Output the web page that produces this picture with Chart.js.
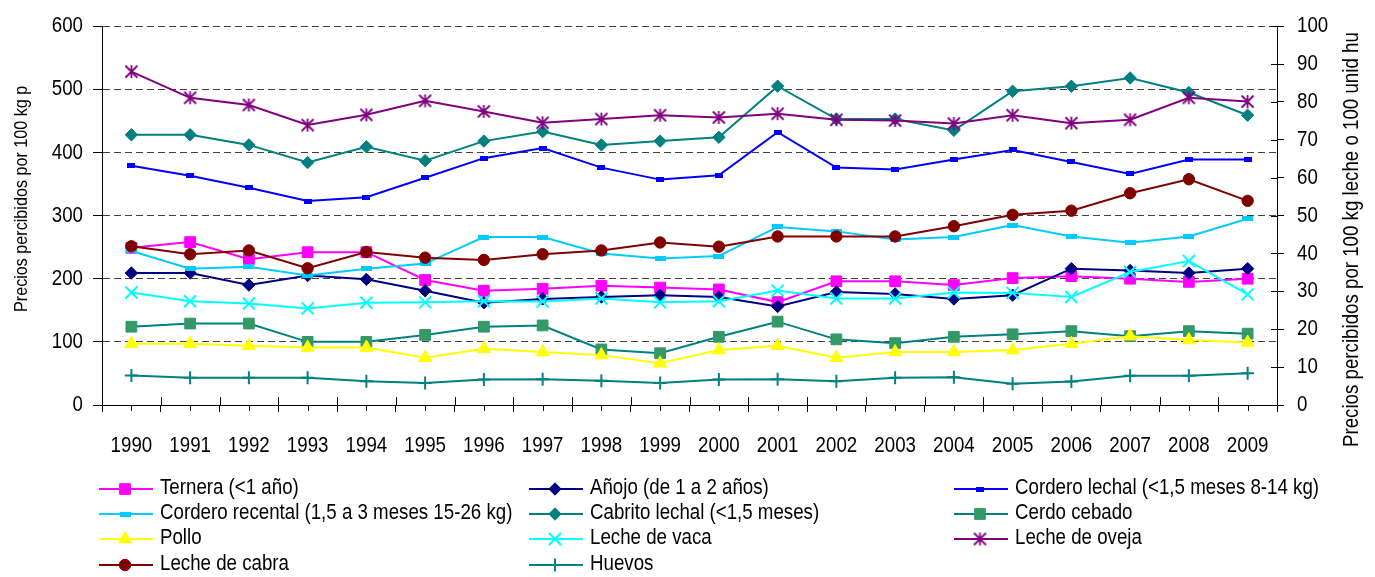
<!DOCTYPE html>
<html>
<head>
<meta charset="utf-8">
<script src="https://cdn.jsdelivr.net/npm/chart.js@4.4.1/dist/chart.umd.min.js"></script>
<style>
html,body{margin:0;padding:0;background:#ffffff;}
#wrap{width:1375px;height:577px;position:relative;}
</style>
</head>
<body>
<div id="wrap"><canvas id="c" width="1375" height="577"></canvas></div>
<script>
// ---- data ----
const years = ['1990','1991','1992','1993','1994','1995','1996','1997','1998','1999','2000','2001','2002','2003','2004','2005','2006','2007','2008','2009'];
const leftTicks = [0,100,200,300,400,500,600];
const rightTicks = [0,10,20,30,40,50,60,70,80,90,100];

// left axis (por 100 kg)
const ternera        = [249,258,231,242,242,198,181,184,189,186,183,163,196,196,190,201,204,200,195,200];
const anojo          = [209,209,190,205,199,181,162,168,171,174,171,156,179,176,168,174,216,213,209,216];
const corderoLechal  = [379,363,344,323,329,360,391,407,376,357,364,432,376,373,389,404,385,366,389,389];
const corderoRecental= [244,216,219,205,216,224,266,266,240,232,236,282,275,262,266,285,267,257,267,295];
const cabritoLechal  = [428,428,412,384,409,387,418,433,412,418,424,505,453,453,435,497,505,518,495,459];
const cerdoCebado    = [124,129,129,100,100,111,124,126,88,82,108,132,104,98,108,112,117,109,117,113];
const pollo          = [97,97,94,91,91,75,89,84,79,66,87,94,75,84,84,87,97,109,103,99];
// right axis (por 100 kg leche o 100 unid huevos)
const lecheVaca      = [29.7,27.4,26.8,25.5,27.0,27.1,27.4,27.3,28.1,27.1,27.4,30.2,28.1,28.1,29.7,29.6,28.5,35.1,38.0,29.2];
const lecheOveja     = [88.0,81.1,79.2,73.9,76.6,80.3,77.5,74.5,75.5,76.5,75.9,76.9,75.3,75.1,74.3,76.5,74.4,75.3,81.1,80.1];
const lecheCabra     = [41.9,39.8,40.8,36.1,40.4,38.9,38.3,39.8,40.8,42.9,41.8,44.5,44.5,44.5,47.2,50.2,51.3,55.9,59.6,53.9];
const huevos         = [7.8,7.2,7.2,7.2,6.3,5.8,6.7,6.8,6.4,5.8,6.7,6.8,6.3,7.2,7.3,5.6,6.2,7.7,7.7,8.4];

const leftTitle  = 'Precios percibidos por 100 kg p';
const rightTitle = 'Precios percibidos por 100 kg leche o 100 unid hu';

// ---- narrow text rendering (the original uses a condensed sans font) ----
const NARROW = 0.85;
(function () {
  const P = CanvasRenderingContext2D.prototype;
  const fill = P.fillText, measure = P.measureText;
  P.fillText = function (t, x, y, maxW) {
    this.save();
    this.translate(x, y);
    this.scale(NARROW, 1);
    if (maxW === undefined || maxW === null) fill.call(this, t, 0, 0);
    else fill.call(this, t, 0, 0, maxW / NARROW);
    this.restore();
  };
  P.measureText = function (t) {
    const m = measure.call(this, t);
    return {
      width: m.width * NARROW,
      actualBoundingBoxAscent: m.actualBoundingBoxAscent,
      actualBoundingBoxDescent: m.actualBoundingBoxDescent,
      actualBoundingBoxLeft: m.actualBoundingBoxLeft * NARROW,
      actualBoundingBoxRight: m.actualBoundingBoxRight * NARROW,
      fontBoundingBoxAscent: m.fontBoundingBoxAscent,
      fontBoundingBoxDescent: m.fontBoundingBoxDescent
    };
  };
})();

// ---- styles ----
const FONT = "'Liberation Sans', Arial, sans-serif";

function barMarker(w, h, color) {
  const c = document.createElement('canvas');
  c.width = w; c.height = h;
  const x = c.getContext('2d');
  x.fillStyle = color; x.fillRect(0, 0, w, h);
  return c;
}
function asteriskMarker(size, color) {
  const c = document.createElement('canvas');
  c.width = size; c.height = size;
  const x = c.getContext('2d');
  x.strokeStyle = color; x.lineWidth = 1.8;
  const m = size / 2, r = size / 2 - 1.5;
  x.beginPath();
  x.moveTo(m - r, m - r); x.lineTo(m + r, m + r);
  x.moveTo(m + r, m - r); x.lineTo(m - r, m + r);
  x.moveTo(m, m - r - 0.5); x.lineTo(m, m + r + 0.5);
  x.stroke();
  return c;
}

function series(label, data, axis, color, style, radius, markerColor, pbw) {
  const mc = markerColor || color;
  return {
    label, data, yAxisID: axis,
    borderColor: color, backgroundColor: mc,
    pointBackgroundColor: mc, pointBorderColor: mc,
    pointStyle: style, pointRadius: radius, pointHoverRadius: radius,
    pointBorderWidth: pbw == null ? 1 : pbw,
    borderWidth: 2, tension: 0, fill: false
  };
}

const datasets = [
  series('Ternera (<1 año)', ternera, 'y', '#FF00FF', 'rect', 7.6),
  series('Añojo (de 1 a 2 años)', anojo, 'y', '#000080', 'rectRot', 6.2),
  series('Cordero lechal (<1,5 meses 8-14 kg)', corderoLechal, 'y', '#0000FF', barMarker(8, 5, '#0000FF'), 4),
  series('Cordero recental (1,5 a 3 meses 15-26 kg)', corderoRecental, 'y', '#00CCFF', barMarker(11, 5, '#00CCFF'), 5),
  series('Cabrito lechal (<1,5 meses)', cabritoLechal, 'y', '#008080', 'rectRot', 6.2),
  series('Cerdo cebado', cerdoCebado, 'y', '#008080', 'rect', 7.6, '#339966'),
  series('Pollo', pollo, 'y', '#FFFF00', 'triangle', 7.5),
  series('Leche de vaca', lecheVaca, 'y2', '#00FFFF', 'crossRot', 8.5, null, 2),
  series('Leche de oveja', lecheOveja, 'y2', '#800080', asteriskMarker(15, '#800080'), 7),
  series('Leche de cabra', lecheCabra, 'y2', '#800000', 'circle', 5.7),
  series('Huevos', huevos, 'y2', '#008080', 'cross', 6.5, null, 2)
];
// later series drawn on top (as in the original)
datasets.forEach((d, i) => { d.order = datasets.length - i; });

// ---- plugins ----
const extras = {
  id: 'extras',
  afterDraw(chart) {
    const ctx = chart.ctx;
    const x = chart.scales.x, y2 = chart.scales.y2, area = chart.chartArea;
    const n = years.length;
    ctx.save();
    ctx.strokeStyle = '#000'; ctx.lineWidth = 1;
    ctx.beginPath();
    // short ticks under each category
    for (let i = 0; i < n; i++) {
      const px = Math.round(x.getPixelForValue(i)) + 0.5;
      ctx.moveTo(px, area.bottom); ctx.lineTo(px, area.bottom + 6);
    }
    // upward part of the boundary ticks
    for (let i = 1; i < n; i++) {
      const px = Math.round((x.getPixelForValue(i - 1) + x.getPixelForValue(i)) / 2) + 0.5;
      ctx.moveTo(px, area.bottom - 8); ctx.lineTo(px, area.bottom);
    }
    // inward part of right-axis ticks
    rightTicks.forEach(v => {
      const py = Math.round(y2.getPixelForValue(v)) + 0.5;
      ctx.moveTo(area.right - 6, py); ctx.lineTo(area.right, py);
    });
    ctx.stroke();

    // axis titles
    ctx.fillStyle = '#000';
    ctx.textAlign = 'left'; ctx.textBaseline = 'alphabetic';
    ctx.font = '19px ' + FONT;
    ctx.save(); ctx.translate(27, 312); ctx.rotate(-Math.PI / 2); ctx.fillText(leftTitle, 0, 0); ctx.restore();
    ctx.font = '22px ' + FONT;
    ctx.save(); ctx.translate(1358, 447); ctx.rotate(-Math.PI / 2); ctx.fillText(rightTitle, 0, 0); ctx.restore();

    // legend in a 3-column grid
    const colX = [160, 590, 1015], rowY = [489, 514, 539, 565];
    chart.data.datasets.forEach((d, i) => {
      const tx = colX[i % 3], ly = rowY[Math.floor(i / 3)];
      ctx.save();
      ctx.strokeStyle = d.borderColor; ctx.lineWidth = 2;
      ctx.beginPath(); ctx.moveTo(tx - 61, ly); ctx.lineTo(tx - 7, ly); ctx.stroke();
      ctx.fillStyle = d.pointBackgroundColor; ctx.strokeStyle = d.pointBorderColor;
      ctx.lineWidth = d.pointBorderWidth;
      Chart.helpers.drawPoint(ctx, {pointStyle: d.pointStyle, radius: d.pointRadius, rotation: 0, borderWidth: d.pointBorderWidth}, tx - 35, ly);
      ctx.restore();
      ctx.fillStyle = '#000';
      ctx.font = '22px ' + FONT;
      ctx.textAlign = 'left'; ctx.textBaseline = 'alphabetic';
      ctx.fillText(d.label, tx, ly + 5);
    });
    ctx.restore();
  }
};

const tickFont = {family: FONT, size: 22};

new Chart(document.getElementById('c'), {
  type: 'line',
  data: {labels: years, datasets},
  plugins: [extras],
  options: {
    responsive: false, animation: false, devicePixelRatio: 1,
    layout: {padding: {top: 20, left: 0, right: 0, bottom: 0}},
    plugins: {legend: {display: false}, tooltip: {enabled: false}, title: {display: false}},
    scales: {
      x: {
        type: 'category', offset: true,
        grid: {display: true, offset: true, drawOnChartArea: false, drawTicks: true, tickLength: 7, color: '#000', tickColor: '#000'},
        border: {display: true, color: '#000', width: 1},
        ticks: {font: tickFont, color: '#000', padding: 21, maxRotation: 0, autoSkip: false},
        afterFit(s) { s.height = 172; }
      },
      y: {
        position: 'left', min: 0, max: 600,
        afterBuildTicks(s) { s.ticks = leftTicks.map(v => ({value: v})); },
        grid: {display: true, drawOnChartArea: true, drawTicks: true, tickLength: 9, color: '#404040', tickColor: '#000'},
        border: {display: true, color: '#000', width: 1, dash: [7, 4]},
        ticks: {font: tickFont, color: '#000', padding: 10},
        afterFit(s) { s.width = 102; }
      },
      y2: {
        position: 'right', min: 0, max: 100,
        afterBuildTicks(s) { s.ticks = rightTicks.map(v => ({value: v})); },
        grid: {display: true, drawOnChartArea: false, drawTicks: true, tickLength: 7, color: '#000', tickColor: '#000'},
        border: {display: true, color: '#000', width: 1},
        ticks: {font: tickFont, color: '#000', padding: 13},
        afterFit(s) { s.width = 98; }
      }
    }
  }
});
</script>
</body>
</html>
